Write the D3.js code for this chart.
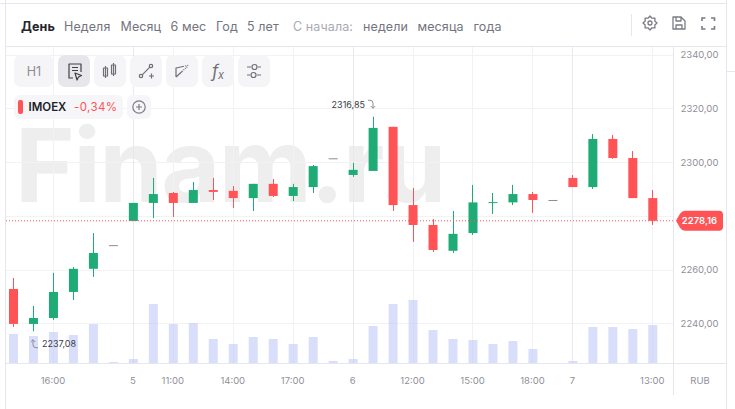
<!DOCTYPE html>
<html><head><meta charset="utf-8">
<script src="https://cdnjs.cloudflare.com/ajax/libs/d3/7.8.5/d3.min.js"></script>
<style>html,body{margin:0;padding:0;background:#fff}svg{display:block}text{font-family:Inter,"Noto Sans",sans-serif}</style>
</head><body><svg id="c" width="735" height="409"></svg>
<script>
const opens =[2252.8,2239.8,2242.0,2251.7,2260.3,2269.1,2278.1,2284.8,2288.5,2284.8,2289.6,2289.3,2286.6,2291.9,2287.4,2290.7,2301.4,2295.2,2296.7,2313.1,2284.0,2276.6,2267,2273.6,2285.1,2285.0,2288.1,2285.9,2294.1,2290.7,2308.6,2301.5,2286.6];
const closes=[2239.8,2242.0,2251.7,2260.3,2266.2,2269.1,2284.8,2288.1,2284.8,2289.6,2288.9,2286.6,2291.9,2287.4,2290.7,2298.5,2301.4,2297.1,2312.7,2284.0,2276.6,2267.3,2273.3,2285.0,2285.1,2288.1,2285.9,2285.9,2290.7,2308.6,2301.5,2286.6,2278.16];
const highs =[2256.9,2246.5,2258.8,2261.0,2273.6,2269.1,2284.8,2294.1,2288.9,2292.6,2294.1,2291.1,2291.9,2293.7,2291.9,2298.9,2301.4,2299.7,2316.85,2313.1,2290.4,2278.8,2281.8,2291.5,2288.5,2291.5,2288.9,2285.9,2295.2,2310.4,2310.1,2304.1,2289.6];
const lows  =[2238.7,2237.08,2241.3,2248.7,2257.3,2269.1,2278.1,2279.2,2279.6,2284.8,2285.9,2282.9,2281.8,2287.0,2285.5,2288.5,2301.4,2294.5,2296.7,2281.8,2270.3,2266.6,2266.2,2272.9,2280.7,2284.0,2281.1,2285.9,2290.7,2290.0,2301.2,2286.6,2276.6];
const volumes=[29.3,27.3,31.3,28.3,39.3,1.3,4.3,59.3,39.3,40.3,24.3,19.3,26.3,24.3,19.3,26.3,2.3,4.3,37.3,59.3,63.3,33.3,24.3,23.3,19.3,22.3,14.3,0,2.3,36.3,36.3,34.3,38.3];
const priceTicks=[2340,2320,2300,2280,2260,2240];
const priceLabels=["2340,00","2320,00","2300,00",null,"2260,00","2240,00"];
const timeIdx=[2,6,8,11,14,17,20,23,26,28,32];
const timeLabels=["16:00","5","11:00","14:00","17:00","6","12:00","15:00","18:00","7","13:00"];
const dayIdx=[6,17,28];
const periods=["День","Неделя","Месяц","6 мес","Год","5 лет"];
const sinceItems=["недели","месяца","года"];
const lastPrice=2278.16, maxPrice=2316.85, minPrice=2237.08;

const svg=d3.select("#c");
const x=d3.scaleLinear().domain([0,32]).range([13.5,652.8]);
const y=d3.scaleLinear().domain([2340,2240]).range([54.5,323.4]);
const v=d3.scaleLinear().domain([0,100]).range([363.3,263.3]);
const GREEN="#1fab76",RED="#ff5356",GRID="#f2f2f5",DAY="#e8e8ee",LINE="#e6e6ee",TXT="#8f8f99";
const colorOf=i=>closes[i]===opens[i]&&highs[i]===lows[i]?"#8d8a9c":(closes[i]>=opens[i]?GREEN:RED);
const idx=d3.range(opens.length);

// watermark
svg.append("text").attr("x",15).attr("y",202).attr("font-size",102).attr("font-weight",700).attr("letter-spacing",-1.6).attr("fill","#eeeeef").text("Finam.ru");

// grid
svg.append("g").selectAll("line").data(priceTicks).join("line")
 .attr("x1",6).attr("x2",673).attr("y1",d=>Math.round(y(d))+.5).attr("y2",d=>Math.round(y(d))+.5).attr("stroke",GRID);
svg.append("g").selectAll("line").data(timeIdx).join("line")
 .attr("x1",d=>Math.floor(x(d))+.5).attr("x2",d=>Math.floor(x(d))+.5).attr("y1",47).attr("y2",363)
 .attr("stroke",d=>dayIdx.includes(d)?DAY:GRID);

// volumes
svg.append("g").selectAll("rect").data(idx).join("rect")
 .attr("x",i=>x(i)-4.5).attr("width",9).attr("y",i=>v(volumes[i])).attr("height",i=>v(0)-v(volumes[i]))
 .attr("fill","#b4c0f8").attr("fill-opacity",.5);

// candles
const g=svg.append("g");
g.selectAll("line").data(idx).join("line")
 .attr("x1",i=>Math.floor(x(i))+.5).attr("x2",i=>Math.floor(x(i))+.5)
 .attr("y1",i=>y(highs[i])).attr("y2",i=>y(lows[i])).attr("stroke",colorOf);
g.selectAll("rect").data(idx).join("rect")
 .attr("x",i=>x(i)-4.5).attr("width",9)
 .attr("y",i=>y(Math.max(opens[i],closes[i])))
 .attr("height",i=>Math.max(1,Math.abs(y(opens[i])-y(closes[i]))))
 .attr("fill",colorOf);

// frame
const fr=svg.append("g").attr("stroke",LINE).attr("fill","none");
fr.append("path").attr("d","M5.5 0V409M726.5 0V409M0 3.5H726M5 46.5H726M673.5 47V395M5 363.5H726M726 71.5H735");

// last price line
svg.append("line").attr("x1",6).attr("x2",673).attr("y1",y(lastPrice)).attr("y2",y(lastPrice))
 .attr("stroke",RED).attr("stroke-dasharray","1 2");
const ly=y(lastPrice);
svg.append("path").attr("d",`M676 ${ly} L680 ${ly-7} Q682 ${ly-10} 685 ${ly-10} H719 Q723 ${ly-10} 723 ${ly-6} V${ly+6} Q723 ${ly+10} 719 ${ly+10} H685 Q682 ${ly+10} 680 ${ly+7} Z`).attr("fill",RED);
svg.append("text").attr("x",699.5).attr("y",ly+3.6).attr("text-anchor","middle").attr("font-size",9.5).attr("font-weight",600).attr("fill","#fff").text("2278,16");

// axis labels
svg.append("g").selectAll("text").data(priceTicks.map((d,i)=>[d,priceLabels[i]]).filter(d=>d[1])).join("text")
 .attr("x",699.5).attr("y",d=>y(d[0])+3.5).attr("text-anchor","middle").attr("font-size",9.5).attr("fill",TXT).text(d=>d[1]);
svg.append("g").selectAll("text").data(timeIdx).join("text")
 .attr("x",d=>x(d)-.5).attr("y",383.5).attr("text-anchor","middle").attr("font-size",9.5).attr("fill",TXT).text((d,i)=>timeLabels[i]);
svg.append("text").attr("x",700).attr("y",383.5).attr("text-anchor","middle").attr("font-size",9.5).attr("fill",TXT).text("RUB");

// extremes
const fmt=n=>n.toFixed(2).replace(".",",");
svg.append("text").attr("x",365).attr("y",y(maxPrice)-9).attr("text-anchor","end").attr("font-size",9).attr("fill","#3c3c46").text(fmt(maxPrice));
const my=y(maxPrice);
svg.append("path").attr("d",`M368 ${my-16.5}H370Q373 ${my-16.5} 373 ${my-13.5}V${my-8.5}M370.8 ${my-10.7}L373 ${my-8.5}L375.2 ${my-10.7}`).attr("fill","none").attr("stroke","#8c8c96");
svg.append("text").attr("x",42).attr("y",y(minPrice)+16).attr("font-size",9).attr("fill","#3c3c46").text(fmt(minPrice));
const ny=y(minPrice);
svg.append("path").attr("d",`M38 ${ny+16.5}H36Q33 ${ny+16.5} 33 ${ny+13.5}V${ny+8.5}M30.8 ${ny+10.7}L33 ${ny+8.5}L35.2 ${ny+10.7}`).attr("fill","none").attr("stroke","#8c8c96");

// header
const hx=[21,64,120.5,170.5,216,247];
svg.append("g").selectAll("text").data(periods).join("text")
 .attr("x",(d,i)=>hx[i]).attr("y",30.5).attr("font-size",12.5).attr("letter-spacing",.1)
 .attr("font-weight",(d,i)=>i?400:700).attr("fill",(d,i)=>i?"#74747e":"#26262c").text(d=>d);
svg.append("text").attr("x",293).attr("y",30.5).attr("font-size",12.5).attr("letter-spacing",.1).attr("fill","#a9a9b2").text("С начала:");
const sx=[363,417.5,473.5];
svg.append("g").selectAll("text").data(sinceItems).join("text")
 .attr("x",(d,i)=>sx[i]).attr("y",30.5).attr("font-size",12.5).attr("letter-spacing",.1).attr("fill","#74747e").text(d=>d);
svg.append("line").attr("x1",631.5).attr("x2",631.5).attr("y1",14).attr("y2",36).attr("stroke",LINE);

// header icons
const ic=svg.append("g").attr("fill","none").attr("stroke","#7b7b85").attr("stroke-width",1.3);
const gear=d3.range(16).map(i=>{const a=i*Math.PI/8,r=(i%2)?5.2:7;return [650+r*Math.sin(a),23+r*Math.cos(a)]});
ic.append("path").attr("d",d3.line().curve(d3.curveLinearClosed)(gear)).attr("stroke-linejoin","round");
ic.append("circle").attr("cx",650).attr("cy",23).attr("r",2);
ic.append("path").attr("d","M673 17H681L685 21V29H673Z M676 17V21H681V17 M676 29V25H682V29").attr("stroke-linejoin","round");
ic.append("path").attr("d","M702 21V18H705.5 M711 18H714.5V21 M714.5 26V29H711 M705.5 29H702V26").attr("stroke-width",1.6);

// toolbar
const btnX=[14,58,94,130,166,202,238], btnW=[39.5,32,32,32,32,32,32];
svg.append("g").selectAll("rect").data(btnX).join("rect")
 .attr("x",d=>d).attr("y",55).attr("width",(d,i)=>btnW[i]).attr("height",32).attr("rx",7)
 .attr("fill",(d,i)=>i===1?"#e7e7eb":"#f5f5f7");
svg.append("text").attr("x",34).attr("y",75.5).attr("text-anchor","middle").attr("font-size",12.5).attr("fill","#8c8c96").text("H1");
const tb=svg.append("g").attr("fill","none").attr("stroke","#6f6f78").attr("stroke-width",1.2).attr("stroke-linejoin","round");
tb.append("path").attr("d","M73 78H69V64H81V72 M72 67.5H78 M72 70.5H78").attr("stroke","#3f3f48");
tb.append("path").attr("d","M75 73L81.5 75.5L78.5 77L77 80Z").attr("stroke","#3f3f48");
tb.append("path").attr("d","M103.5 68H107.5V76H103.5Z M105.5 66V78 M111.5 65H115.5V74H111.5Z M113.5 63V76");
tb.append("circle").attr("cx",141).attr("cy",76).attr("r",1.7);
tb.append("circle").attr("cx",151).attr("cy",66).attr("r",1.7);
tb.append("path").attr("d","M142.2 74.8L149.8 67.2 M149 76H154 M151.5 73.5V78.5");
tb.append("path").attr("d","M176 77V68L183 66.5 M176 77L182 71.5");
tb.append("path").attr("d","M183 66.5L189 65 M182 71.5L188 66").attr("stroke-dasharray","1 1");
svg.append("text").attr("x",212).attr("y",77).attr("font-family","'Liberation Serif',serif").attr("font-style","italic").attr("font-size",17).attr("fill","#6f6f78").text("f");
svg.append("text").attr("x",218).attr("y",79).attr("font-family","'Liberation Serif',serif").attr("font-style","italic").attr("font-size",11).attr("fill","#6f6f78").text("x");
tb.append("path").attr("d","M247 67H251 M258 67H261 M247 75H250 M257 75H261");
tb.append("circle").attr("cx",254.5).attr("cy",67).attr("r",2.5);
tb.append("circle").attr("cx",253.5).attr("cy",75).attr("r",2.5);

// legend
svg.append("rect").attr("x",14).attr("y",95).attr("width",109).attr("height",24).attr("rx",6).attr("fill","#f6f6f8");
svg.append("rect").attr("x",18).attr("y",100).attr("width",5).attr("height",14).attr("rx",2).attr("fill",RED);
svg.append("text").attr("x",28.5).attr("y",111).attr("font-size",11.5).attr("font-weight",600).attr("fill","#20202a").text("IMOEX");
svg.append("text").attr("x",74).attr("y",111).attr("font-size",11.5).attr("letter-spacing",.4).attr("fill",RED).text("-0,34%");
svg.append("rect").attr("x",127).attr("y",95).attr("width",24).attr("height",24).attr("rx",6).attr("fill","#f6f6f8");
svg.append("circle").attr("cx",139).attr("cy",107).attr("r",6.2).attr("fill","none").attr("stroke","#7b7b85").attr("stroke-width",1.2);
svg.append("path").attr("d","M136 107H142M139 104V110").attr("fill","none").attr("stroke","#7b7b85").attr("stroke-width",1.2);
</script></body></html>
